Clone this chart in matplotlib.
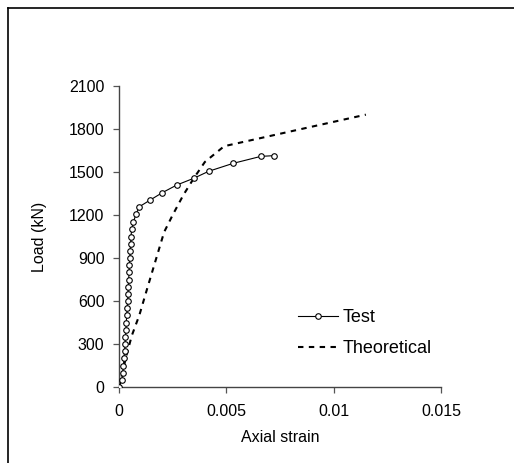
import matplotlib
matplotlib.use('Agg')
import matplotlib.pyplot as plt
from matplotlib.lines import Line2D

plt.rcParams['font.family'] = ['Liberation Sans', 'DejaVu Sans']

# test data
test_strain = [0.0, 0.00014, 0.00017, 0.00021, 0.00023, 0.00026, 0.00028, 0.00030,
               0.00032, 0.00034, 0.00036, 0.00038, 0.00040, 0.00042, 0.00043, 0.00045,
               0.00047, 0.00048, 0.00050, 0.00052, 0.00054, 0.00056, 0.00059, 0.00067,
               0.00079, 0.00095, 0.00146, 0.00202, 0.00269, 0.00348, 0.00418, 0.00531,
               0.00661, 0.00722]
test_load = [0, 50, 100, 150, 200, 250, 300, 350, 400, 450, 500, 550, 600, 650, 700, 750,
             800, 850, 900, 950, 1000, 1050, 1100, 1150, 1205, 1258, 1305, 1356, 1409,
             1456, 1505, 1560, 1609, 1614]

theo_strain = [0.0, 0.00012, 0.00033, 0.0006, 0.00095, 0.0013, 0.0017, 0.0021, 0.0025,
               0.003, 0.0035, 0.004, 0.0049, 0.0115]
theo_load = [0, 72, 212, 360, 502, 680, 880, 1080, 1200, 1340, 1460, 1570, 1680, 1900]

xticks = [0, 0.005, 0.01, 0.015]
xticklabels = ['0', '0.005', '0.01', '0.015']
yticks = [0, 300, 600, 900, 1200, 1500, 1800, 2100]

fig = plt.figure(figsize=(5.14, 4.63), dpi=100)
ax = fig.add_axes([0.2315, 0.1641, 0.6265, 0.6502])

ax.plot(theo_strain, theo_load, color='black', lw=1.5, dashes=(2.6, 2.6),
        label='Theoretical', zorder=2)
ax.plot(test_strain, test_load, color='black', lw=0.8, marker='o', markersize=4,
        markerfacecolor='white', markeredgecolor='black', markeredgewidth=0.8,
        label='Test', zorder=3)

ax.set_xlim(0, 0.015)
ax.set_ylim(0, 2100)
ax.set_xticks(xticks)
ax.set_xticklabels(xticklabels)
ax.set_yticks(yticks)
ax.tick_params(direction='out', length=4.5, width=0.9, colors='#555555',
               labelcolor='black', labelsize=11.5)
ax.tick_params(axis='x', pad=8)
ax.tick_params(axis='y', pad=6)
for s in ['top', 'right']:
    ax.spines[s].set_visible(False)
for s in ['left', 'bottom']:
    ax.spines[s].set_linewidth(1.0)
    ax.spines[s].set_color('#444444')
ax.set_xlabel('Axial strain', fontsize=11.5, va='center')
ax.set_ylabel('Load (kN)', fontsize=11.5, va='center')
ax.xaxis.set_label_coords(0.5, -0.169)
ax.yaxis.set_label_coords(-0.248, 0.5)

handles, labels = ax.get_legend_handles_labels()
ax.legend(handles[::-1], labels[::-1], loc='upper left', bbox_to_anchor=(0.534, 0.283),
          frameon=False, fontsize=13, handlelength=2.2, handletextpad=0.28,
          labelspacing=0.77, numpoints=1, borderaxespad=0)

# outer frame (left and top edges)
fig.add_artist(Line2D([8 / 514, 8 / 514], [0, 1 - 8 / 463], color='black', lw=1.2,
                      transform=fig.transFigure))
fig.add_artist(Line2D([8 / 514, 1], [1 - 8 / 463, 1 - 8 / 463], color='black', lw=1.2,
                      transform=fig.transFigure))

fig.savefig('out.png', dpi=100)
